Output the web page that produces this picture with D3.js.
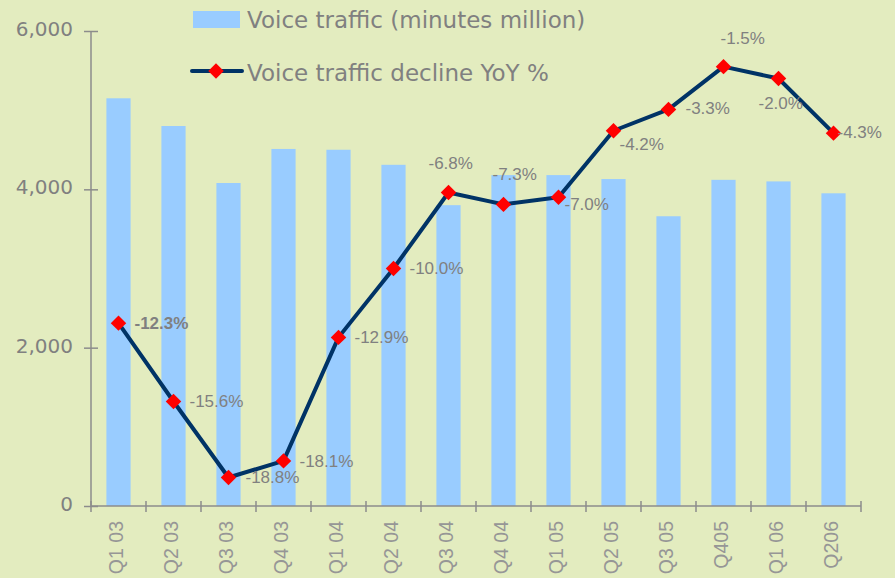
<!DOCTYPE html>
<html lang="en">
<head>
<meta charset="UTF-8">
<title>Voice traffic</title>
<script src="https://cdn.jsdelivr.net/npm/d3@7/dist/d3.min.js"></script>
<style>
  body { margin: 0; padding: 0; overflow: hidden; background: #e3ecbf; }
  svg { display: block; }
  .ylab { font: 20px "DejaVu Sans", Verdana, sans-serif; fill: #808080; }
  .xlab { font: 19.5px "Liberation Sans", Arial, sans-serif; fill: #969696; }
  .plab { font: 17px "Liberation Sans", Arial, sans-serif; fill: #808080; }
  .plab.first { font-weight: bold; }
  .legend text { font: 23px "DejaVu Sans", Verdana, sans-serif; fill: #808080; }
</style>
</head>
<body>
<svg id="chart" width="895" height="578"></svg>
<script>
const quarters = ["Q1 03", "Q2 03", "Q3 03", "Q4 03", "Q1 04", "Q2 04", "Q3 04",
                  "Q4 04", "Q1 05", "Q2 05", "Q3 05", "Q405", "Q1 06", "Q206"];
// minutes million
const traffic = [5150, 4800, 4080, 4510, 4500, 4310, 3800,
                 4180, 4180, 4130, 3660, 4120, 4100, 3950];
// YoY decline %
const decline = [-12.3, -15.6, -18.8, -18.1, -12.9, -10.0, -6.8,
                 -7.3, -7.0, -4.2, -3.3, -1.5, -2.0, -4.3];
const yTicks = [0, 2000, 4000, 6000];

// where each % label sits relative to its marker (Excel put them by hand)
const labelOffsets = [[16, 0], [16, 0], [17, 0], [16, 0], [16, 0], [16, 0], [-20, -29],
                      [-11, -30], [6, 7], [6, 13], [17, -1], [-3, -29], [-20, 25], [4, -1]];

const W = 895, H = 578;
const plotL = 91, plotR = 861, plotT = 31, plotB = 506;

const svg = d3.select("#chart");
svg.append("rect").attr("width", W).attr("height", H).attr("fill", "#e3ecbf");

const x = d3.scaleBand().domain(quarters).range([plotL, plotR])
  .paddingInner(0.56).paddingOuter(0.28);
const xEdge = d3.scaleLinear().domain([0, quarters.length]).range([plotL, plotR]);
const y = d3.scaleLinear().domain([0, 6000]).range([plotB, plotT]);
const y2 = d3.scaleLinear().domain([-20, 0]).range([plotB, plotT]);
const cx = q => x(q) + x.bandwidth() / 2;

// bars
svg.append("g").selectAll("rect")
  .data(quarters)
  .enter().append("rect")
  .attr("x", d => x(d))
  .attr("width", x.bandwidth())
  .attr("y", (d, i) => y(traffic[i]))
  .attr("height", (d, i) => plotB - y(traffic[i]))
  .attr("fill", "#99ccff");

// y axis
const yAxis = svg.append("g")
  .attr("transform", `translate(${plotL},0)`)
  .call(d3.axisLeft(y).tickValues(yTicks).tickFormat(d3.format(",")).tickSize(7));
yAxis.select(".domain").attr("stroke", "#8c8c8c").attr("stroke-width", 1.5)
  .attr("d", `M0,${plotT}V${plotB}`);
yAxis.selectAll(".tick line").attr("x1", 7).attr("stroke", "#8c8c8c").attr("stroke-width", 1.5);
yAxis.selectAll(".tick text").attr("class", "ylab").attr("x", -18).attr("dy", "0.22em")
  .attr("fill", null);
yAxis.attr("font-family", null).attr("font-size", null);

// x axis
const xAxis = svg.append("g");
xAxis.append("line")
  .attr("x1", plotL).attr("x2", plotR).attr("y1", plotB).attr("y2", plotB)
  .attr("stroke", "#8c8c8c").attr("stroke-width", 1.5);
xAxis.selectAll(".xt")
  .data(d3.range(quarters.length + 1))
  .enter().append("line")
  .attr("x1", d => xEdge(d)).attr("x2", d => xEdge(d))
  .attr("y1", plotB - 5).attr("y2", plotB + 6)
  .attr("stroke", "#8c8c8c").attr("stroke-width", 1.5);
xAxis.selectAll(".xlab")
  .data(quarters)
  .enter().append("text")
  .attr("class", "xlab")
  .attr("text-anchor", "end")
  .attr("transform", d => `translate(${cx(d) + 4},${plotB + 15}) rotate(-90)`)
  .text(d => d);

// decline line
const line = d3.line()
  .x((d, i) => cx(quarters[i]))
  .y(d => y2(d));
svg.append("path")
  .datum(decline)
  .attr("d", line)
  .attr("fill", "none")
  .attr("stroke", "#003366")
  .attr("stroke-width", 4)
  .attr("stroke-linejoin", "round");

const diamond = d3.symbol(d3.symbolSquare, 120);
svg.append("g").selectAll("path")
  .data(decline)
  .enter().append("path")
  .attr("d", diamond)
  .attr("fill", "#ff0000")
  .attr("transform", (d, i) => `translate(${cx(quarters[i])},${y2(d)}) rotate(45)`);

svg.append("g").selectAll("text")
  .data(decline)
  .enter().append("text")
  .attr("class", (d, i) => i === 0 ? "plab first" : "plab")
  .attr("x", (d, i) => cx(quarters[i]) + labelOffsets[i][0])
  .attr("y", (d, i) => y2(d) + labelOffsets[i][1])
  .attr("dy", "0.35em")
  .text(d => d.toFixed(1) + "%");

// legend
const legend = svg.append("g").attr("class", "legend");
legend.append("rect").attr("x", 193).attr("y", 11).attr("width", 47).attr("height", 17)
  .attr("fill", "#99ccff");
legend.append("text").attr("x", 247).attr("y", 20).attr("dy", "0.36em")
  .text("Voice traffic (minutes million)");
legend.append("line").attr("x1", 192).attr("x2", 242).attr("y1", 71).attr("y2", 71)
  .attr("stroke", "#003366").attr("stroke-width", 4).attr("stroke-linecap", "round");
legend.append("path").attr("d", diamond).attr("fill", "#ff0000")
  .attr("transform", "translate(216,71) rotate(45)");
legend.append("text").attr("x", 247).attr("y", 73).attr("dy", "0.36em")
  .text("Voice traffic decline YoY %");
</script>
</body>
</html>
